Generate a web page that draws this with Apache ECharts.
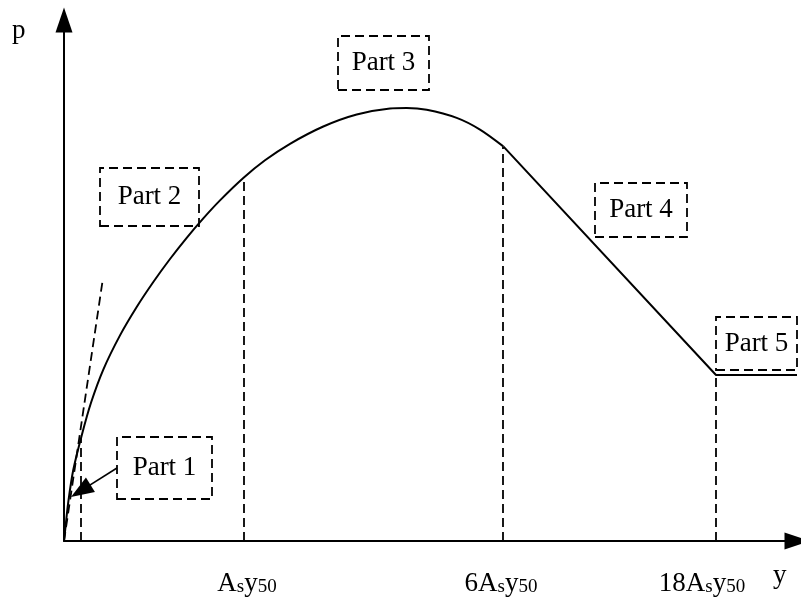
<!DOCTYPE html>
<html>
<head>
<meta charset="utf-8">
<script src="https://cdn.jsdelivr.net/npm/echarts@6/dist/echarts.min.js"></script>
<style>
html, body { margin: 0; padding: 0; background: #fff; }
#chart { width: 801px; height: 600px; }
</style>
</head>
<body>
<div id="chart"></div>
<script>
// schematic p-y curve, units (1 unit ~ 1 px from the origin)
var curveX = [0, 1.5, 4.3, 9.3, 17.7, 27, 39.3, 56, 72.7, 89.3, 106, 122.7, 139.3, 156, 179.3, 201, 226, 259.3, 292.7, 326, 342.7, 362.7, 392.7, 416, 439.3];
var curveY = [0, 14, 39.2, 71.2, 105.6, 138.2, 171.4, 205.6, 234, 259, 282, 303.2, 322.6, 340.6, 363, 380.7, 397.2, 414.5, 426.5, 432.5, 433, 431.2, 423.1, 411.4, 394.6];
var lineX = [439.3, 652, 733];
var lineY = [394.6, 166, 166];
var tangentX = [0, 39];
var tangentY = [0, 263];
var guideX = [17, 180, 439, 652];
var guideTop = [103, 364, 394, 166];
var tickPos = [183, 437, 638];
var tickText = ['{a|A}{s|s}{a|y}{s|50}', '{a|6A}{s|s}{a|y}{s|50}', '{a|18A}{s|s}{a|y}{s|50}'];
var partNames = ['Part 1', 'Part 2', 'Part 3', 'Part 4', 'Part 5'];
var partX0 = [53, 36, 274, 531, 652];
var partX1 = [148, 135, 365, 623, 742];
var partY0 = [42, 315, 451, 304, 171];
var partY1 = [104, 373, 505, 358, 224];
var pointerFrom = [53, 73];
var pointerHead = [16.7, 50.1];

var serif = "'Liberation Serif', 'Times New Roman', serif";
var dash = [9, 5];

function pairs(xs, ys) {
  return xs.map(function (x, i) { return [x, ys[i]]; });
}

var guides = guideX.map(function (x, i) {
  return [{ coord: [x, 0] }, { coord: [x, guideTop[i]] }];
});
var boxes = partNames.map(function (n, i) {
  return [{ name: n, coord: [partX0[i], partY0[i]] }, { coord: [partX1[i], partY1[i]] }];
});

var option = {
  animation: false,
  grid: { left: 64, right: 4, top: 20, bottom: 59 },
  xAxis: {
    type: 'value',
    min: 0,
    max: 733,
    splitLine: { show: false },
    axisTick: { show: false },
    axisLine: {
      lineStyle: { color: '#000', width: 2 },
      symbol: ['none', 'triangle'],
      symbolSize: [17, 25]
    },
    axisLabel: {
      customValues: tickPos,
      margin: 29,
      formatter: function (v) {
        return tickText[tickPos.indexOf(v)] || '';
      },
      rich: {
        a: { fontFamily: serif, fontSize: 27, color: '#000', verticalAlign: 'bottom' },
        s: { fontFamily: serif, fontSize: 19, color: '#000', verticalAlign: 'bottom' }
      }
    }
  },
  yAxis: {
    type: 'value',
    min: 0,
    max: 521,
    splitLine: { show: false },
    axisTick: { show: false },
    axisLabel: { show: false },
    axisLine: {
      lineStyle: { color: '#000', width: 2 },
      symbol: ['none', 'triangle'],
      symbolSize: [17, 25]
    }
  },
  graphic: [
    { type: 'text', left: 12, top: 17, style: { text: 'p', font: '27px ' + serif, fill: '#000' } },
    { type: 'text', left: 773, top: 562, style: { text: 'y', font: '27px ' + serif, fill: '#000' } }
  ],
  series: [
    {
      type: 'line',
      data: pairs(curveX, curveY),
      smooth: 0.3,
      showSymbol: false,
      lineStyle: { color: '#000', width: 2 }
    },
    {
      type: 'line',
      data: pairs(lineX, lineY),
      showSymbol: false,
      lineStyle: { color: '#000', width: 2 }
    },
    {
      type: 'line',
      data: pairs(tangentX, tangentY),
      showSymbol: false,
      clip: false,
      lineStyle: { color: '#000', width: 1.8, type: dash },
      markLine: {
        silent: true,
        symbol: ['none', 'none'],
        label: { show: false },
        lineStyle: { color: '#000', width: 1.8, type: dash },
        data: guides.concat([[{ coord: pointerFrom, lineStyle: { type: 'solid', width: 1.6 } }, { coord: pointerHead }]])
      },
      markArea: {
        silent: true,
        itemStyle: { color: 'rgba(0,0,0,0)', borderColor: '#000', borderWidth: 1.8, borderType: dash },
        label: { show: true, position: 'inside', fontFamily: serif, fontSize: 27, color: '#000' },
        data: boxes
      }
    },
    {
      type: 'scatter',
      data: [pointerHead],
      symbol: 'triangle',
      symbolSize: [17, 23],
      symbolRotate: 122,
      itemStyle: { color: '#000', opacity: 1 },
      silent: true
    }
  ]
};

echarts.init(document.getElementById('chart')).setOption(option);
</script>
</body>
</html>
